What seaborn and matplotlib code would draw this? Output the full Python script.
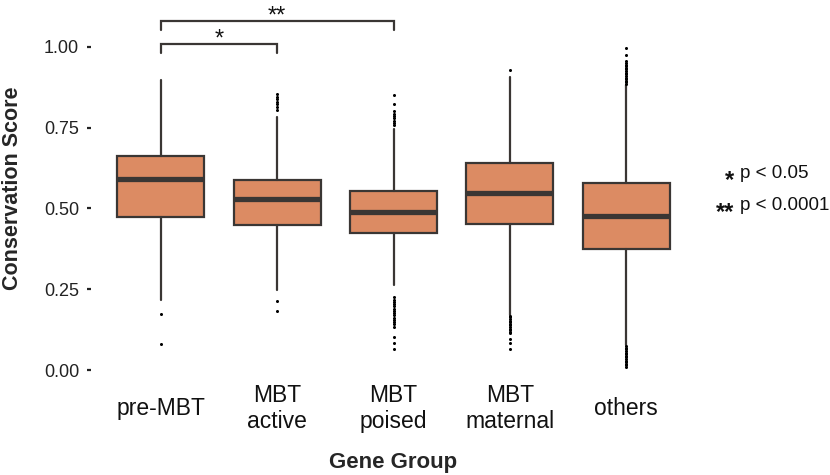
import numpy as np
import matplotlib.pyplot as plt
import seaborn as sns

sns.set_style("white")
plt.rcParams['font.family'] = ['Liberation Sans', 'DejaVu Sans']

# summary stats
groups = ["pre-MBT", "MBT\nactive", "MBT\npoised", "MBT\nmaternal", "others"]
q1 = [0.475, 0.449, 0.423, 0.452, 0.374]
med = [0.592, 0.528, 0.489, 0.549, 0.477]
q3 = [0.663, 0.588, 0.553, 0.640, 0.578]
whislo = [0.217, 0.248, 0.263, 0.170, 0.077]
whishi = [0.897, 0.784, 0.746, 0.908, 0.882]

fliers_pre = [0.172, 0.080]
fliers_active = [0.854, 0.845, 0.838, 0.830, 0.822, 0.814, 0.806, 0.214, 0.184]
fliers_poised = [0.851, 0.824, 0.800, 0.793, 0.786, 0.779, 0.772, 0.765, 0.758,
                 0.225, 0.218, 0.211, 0.204, 0.197, 0.190, 0.183, 0.176, 0.169,
                 0.162, 0.155, 0.148, 0.141, 0.134, 0.103, 0.083, 0.064]
fliers_maternal = [0.929,
                   0.168, 0.163, 0.158, 0.153, 0.148, 0.143, 0.138, 0.133, 0.128,
                   0.123, 0.118, 0.114, 0.095, 0.085, 0.064]
fliers_others = [0.996, 0.975, 0.955, 0.950, 0.945, 0.940, 0.935, 0.930, 0.925,
                 0.920, 0.915, 0.910, 0.905, 0.900, 0.895, 0.890, 0.886,
                 0.074, 0.069, 0.064, 0.059, 0.054, 0.049, 0.044, 0.039, 0.034,
                 0.029, 0.024, 0.019, 0.014, 0.010]
fliers = [fliers_pre, fliers_active, fliers_poised, fliers_maternal, fliers_others]

# significance brackets: (left group, right group, height, label)
brackets = [(0, 1, 1.009, "*"), (0, 2, 1.080, "**")]
sig_labels = ["*", "**"]
sig_text = ["p < 0.05", "p < 0.0001"]

stats = []
for i in range(len(groups)):
    stats.append({"label": groups[i], "q1": q1[i], "med": med[i], "q3": q3[i],
                  "whislo": whislo[i], "whishi": whishi[i], "fliers": fliers[i]})

fill = "#DC8B63"
edge = "#3A3634"

fig = plt.figure(figsize=(8.3, 4.75), dpi=100)
ax = fig.add_axes([0.1096, 0.187, 0.7290, 0.796])

ax.bxp(stats, positions=range(len(groups)), widths=0.75, patch_artist=True,
       showcaps=False,
       boxprops=dict(facecolor=fill, edgecolor=edge, linewidth=1.6),
       medianprops=dict(color=edge, linewidth=3.8, solid_capstyle="butt"),
       whiskerprops=dict(color=edge, linewidth=1.6),
       flierprops=dict(marker="o", markersize=2.2, markerfacecolor="black",
                       markeredgecolor="none"))

ax.set_xlim(-0.6, 4.6)
ax.set_ylim(-0.05, 1.12)
ax.set_yticks([0, 0.25, 0.5, 0.75, 1.0])
ax.set_yticklabels(["0.00", "0.25", "0.50", "0.75", "1.00"])
for s in ax.spines.values():
    s.set_visible(False)

ax.tick_params(axis="y", length=3, width=1.6, color="#222222", pad=5.5,
               labelsize=13, labelcolor="#222222", left=True)
ax.tick_params(axis="x", length=0, pad=16, labelsize=16.5, labelcolor="#111111")
for lbl in ax.get_xticklabels():
    lbl.set_va("center")

ax.set_xlabel("Gene Group", fontsize=16, fontweight="bold", va="center")
ax.xaxis.set_label_coords(0.5, -0.201)
ax.set_ylabel("Conservation Score", fontsize=15.5, fontweight="bold")
ax.yaxis.set_label_coords(-0.1124, 0.524)

# brackets
for a, b, h, lab in brackets:
    leg = 0.028
    ax.plot([a, a, b, b], [h - leg, h, h, h - leg], color=edge, lw=1.6,
            clip_on=False, solid_joinstyle="miter")
    ax.text((a + b) / 2, h - 0.006, lab, ha="center", va="baseline",
            fontsize=17, color="#111111", clip_on=False)

# significance key
fig.text(740 / 830, 1 - 173 / 475, sig_text[0], fontsize=13.5, ha="left", va="center", color="#111111")
fig.text(734 / 830, 1 - 187 / 475, sig_labels[0], fontsize=17, ha="right", va="baseline",
         color="#111111", fontweight="bold")
fig.text(740 / 830, 1 - 206 / 475, sig_text[1], fontsize=13.5, ha="left", va="center", color="#111111")
fig.text(734 / 830, 1 - 219 / 475, sig_labels[1], fontsize=17, ha="right", va="baseline",
         color="#111111", fontweight="bold")

fig.savefig("out.png", dpi=100)
